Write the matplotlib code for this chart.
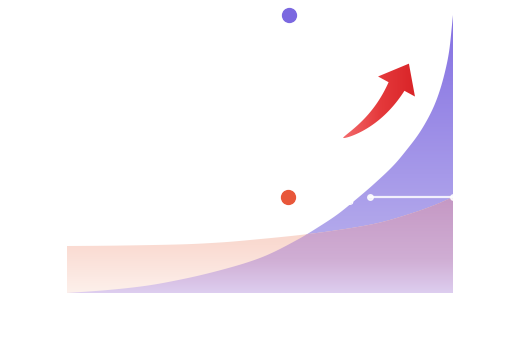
import numpy as np
import matplotlib
matplotlib.use("Agg")
import matplotlib.pyplot as plt
from matplotlib.patches import Polygon
from matplotlib.colors import LinearSegmentedColormap

# series (x in % of the time span, y in % of the top value)
purple_x = [0, 10, 20, 30, 40, 50, 60, 65, 70, 75, 80, 85, 88, 91, 93, 95, 96.5, 98, 99, 100]
purple_y = [0, 1.0, 2.5, 5.0, 8.3, 12.6, 19.4, 23.6, 28.2, 33.8, 39.8, 46.5, 51.5, 57.0, 61.5, 67.0, 72.5, 80.0, 87.0, 100]
orange_x = [0, 10, 20, 30, 40, 50, 60, 70, 80, 90, 95, 100]
orange_y = [16.9, 17.0, 17.2, 17.5, 18.2, 19.4, 20.8, 22.6, 25.0, 29.0, 31.5, 34.5]
marker_x = 57.3          # where the two "peak" dots sit
gap_start = 78.5         # start of the white bracket line
gap_label = "×3"


def pchip(xk, yk, xs):
    # monotone cubic, only used to draw a smooth outline through the read points
    xk = np.asarray(xk, float); yk = np.asarray(yk, float)
    h = np.diff(xk); d = np.diff(yk) / h
    m = np.zeros_like(yk)
    for i in range(1, len(xk) - 1):
        if d[i - 1] * d[i] > 0:
            w1 = 2 * h[i] + h[i - 1]; w2 = h[i] + 2 * h[i - 1]
            m[i] = (w1 + w2) / (w1 / d[i - 1] + w2 / d[i])
    m[0] = d[0]; m[-1] = d[-1]
    idx = np.clip(np.searchsorted(xk, xs) - 1, 0, len(h) - 1)
    t = (xs - xk[idx]) / h[idx]
    h00 = 2 * t**3 - 3 * t**2 + 1; h10 = t**3 - 2 * t**2 + t
    h01 = -2 * t**3 + 3 * t**2; h11 = t**3 - t**2
    return h00 * yk[idx] + h10 * h[idx] * m[idx] + h01 * yk[idx + 1] + h11 * h[idx] * m[idx + 1]


def gradient_area(ax, xs, ys, stops, z):
    verts = np.vstack([np.column_stack([xs, ys]), [[xs[-1], 0], [xs[0], 0]]])
    clip = Polygon(verts, closed=True, facecolor="none", edgecolor="none", transform=ax.transData)
    ax.add_patch(clip)
    cmap = LinearSegmentedColormap.from_list("g", stops)
    grad = np.linspace(0, 1, 256).reshape(-1, 1)
    im = ax.imshow(grad, cmap=cmap, extent=[0, 100, 0, 100], origin="lower",
                   aspect="auto", zorder=z, interpolation="bilinear")
    im.set_clip_path(clip)


fig = plt.figure(figsize=(5.16, 3.6), dpi=100)
ax = fig.add_axes([67 / 516, 67 / 360, 386 / 516, 278 / 360])
ax.set_xlim(0, 100)
ax.set_ylim(0, 100)
ax.axis("off")

xs = np.linspace(0, 100, 800)
py = pchip(purple_x, purple_y, xs)
oy = pchip(orange_x, orange_y, xs)
both = np.minimum(py, oy)

gradient_area(ax, xs, py, [(0, "#bfb8ee"), (0.345, "#ab9fea"), (1, "#8470e2")], 1)
gradient_area(ax, xs, oy, [(0, "#fdf0eb"), (0.17, "#fadbd2"), (0.345, "#f7cdc1"), (1, "#f0b0a0")], 2)
gradient_area(ax, xs, both, [(0, "#ddcdef"), (0.12, "#d0aed4"), (0.345, "#c598c4"), (1, "#b070b0")], 3)

# white bracket from the orange peak
top_o = max(orange_y)
ax.plot([gap_start, 100], [top_o, top_o], color="white", lw=1.6, alpha=0.85,
        marker="o", ms=4, zorder=4, clip_on=False)
ax.text(gap_start - 4, top_o - 1.5, gap_label, color="white", fontsize=10,
        ha="right", va="center", zorder=4)

# peak dots
ax.plot(marker_x + 0.2, max(purple_y), "o", ms=10, color="#7b68e0", zorder=5, clip_on=False)
ax.plot(marker_x, top_o, "o", ms=10, color="#e8573a", zorder=5, clip_on=False)

# red growth arrow (pixel overlay)
ov = fig.add_axes([0, 0, 1, 1])
ov.axis("off")
ov.patch.set_alpha(0)

P0 = np.array([343.0, 138.0]); C = np.array([377.5, 121.5]); H = np.array([396.5, 86.5])
t = np.linspace(0, 1, 60)[:, None]
B = (1 - t)**2 * P0 + 2 * t * (1 - t) * C + t**2 * H
T = 2 * (1 - t) * (C - P0) + 2 * t * (H - C)
T = T / np.linalg.norm(T, axis=1, keepdims=True)
N = np.column_stack([-T[:, 1], T[:, 0]])
w = 18 * t**0.65 / 2
left = B - N * w
right = B + N * w
tip = H + T[-1] * 26
barb_l = H - N[-1] * 21
barb_r = H + N[-1] * 21
arrow_pts = np.vstack([left, [barb_l, tip, barb_r], right[::-1]])
arrow = Polygon(arrow_pts, closed=True, facecolor="none", edgecolor="none")
ov.add_patch(arrow)
acmap = LinearSegmentedColormap.from_list("r", ["#f46e70", "#e53a3c", "#d82226"])
agrad = np.linspace(0, 1, 128).reshape(1, -1)
aim = ov.imshow(agrad, cmap=acmap, extent=[340, 418, 140, 60], aspect="auto",
                zorder=6, interpolation="bilinear")
aim.set_clip_path(arrow)
ov.set_xlim(0, 516)
ov.set_ylim(360, 0)

fig.savefig("out.png", dpi=100)
